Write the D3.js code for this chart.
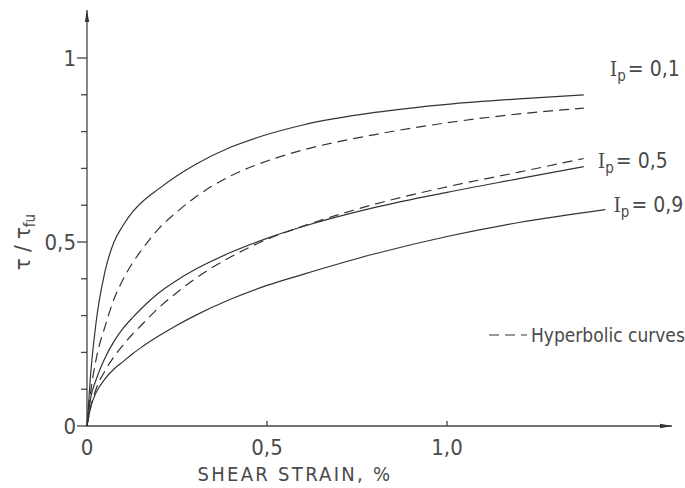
<!DOCTYPE html>
<html>
<head>
<meta charset="utf-8">
<script src="https://cdn.jsdelivr.net/npm/d3@7"></script>
<style>
    body { margin: 0; background: #fff; }
    svg text { font-family: "DejaVu Sans Condensed", "DejaVu Sans", sans-serif; font-stretch: condensed; fill: #4a4a4a; }
    .curve { fill: none; stroke: #333; stroke-width: 1.2; }
    .dashed { stroke-dasharray: 10 6; }
    .axis-line { stroke: #444; stroke-width: 1.3; fill: none; }
</style>
</head>
<body>
<svg class="chart" width="685" height="488"></svg>
<script>
// shear strain (%) sample points
var strain = [0, 0.01, 0.025, 0.05, 0.075, 0.1, 0.125, 0.15, 0.2, 0.25, 0.3, 0.4, 0.5, 0.6, 0.8, 1.0, 1.2, 1.38];
var strainLong = [0, 0.01, 0.025, 0.05, 0.075, 0.1, 0.125, 0.15, 0.2, 0.25, 0.3, 0.4, 0.5, 0.6, 0.8, 1.0, 1.2, 1.44];

// tau / tau_fu
var ip01 = [0, 0.14, 0.28, 0.42, 0.5, 0.545, 0.58, 0.606, 0.645, 0.68, 0.71, 0.758, 0.792, 0.818, 0.852, 0.874, 0.889, 0.90];
var ip01Hyp = [0, 0.09, 0.18, 0.27, 0.345, 0.398, 0.441, 0.476, 0.537, 0.582, 0.621, 0.68, 0.72, 0.75, 0.792, 0.824, 0.848, 0.864];
var ip05 = [0, 0.075, 0.125, 0.185, 0.23, 0.265, 0.293, 0.318, 0.362, 0.396, 0.425, 0.472, 0.51, 0.542, 0.594, 0.635, 0.672, 0.705];
var ip05Hyp = [0, 0.05, 0.1, 0.15, 0.188, 0.22, 0.248, 0.273, 0.322, 0.363, 0.40, 0.46, 0.507, 0.543, 0.603, 0.65, 0.69, 0.727];
var ip09 = [0, 0.05, 0.09, 0.128, 0.155, 0.175, 0.195, 0.213, 0.245, 0.274, 0.30, 0.345, 0.382, 0.412, 0.468, 0.515, 0.553, 0.588];

var xTicks = [0, 0.5, 1.0];
var xTickLabels = ["0", "0,5", "1,0"];
var yTicks = [0, 0.5, 1];
var yTickLabels = ["0", "0,5", "1"];
var yMinorTicks = [0.1, 0.2, 0.3, 0.4, 0.6, 0.7, 0.8, 0.9];

var curves = [
    { x: strain, y: ip01, dashed: false, label: "0,1" },
    { x: strain, y: ip01Hyp, dashed: true },
    { x: strain, y: ip05, dashed: false, label: "0,5" },
    { x: strain, y: ip05Hyp, dashed: true },
    { x: strainLong, y: ip09, dashed: false, label: "0,9" }
];

var svg = d3.select("svg.chart");

var x = d3.scaleLinear().domain([0, 1]).range([87, 447]);
var y = d3.scaleLinear().domain([0, 1]).range([426, 58]);

// axes with arrows
svg.append("defs").append("marker")
    .attr("id", "arrow")
    .attr("viewBox", "0 0 12 6")
    .attr("refX", 12)
    .attr("refY", 3)
    .attr("markerWidth", 14)
    .attr("markerHeight", 6)
    .attr("markerUnits", "userSpaceOnUse")
    .attr("orient", "auto")
    .append("path")
    .attr("d", "M0,0.8 L12,3 L0,5.2 Z")
    .attr("fill", "#333");

svg.append("line")
    .classed("axis-line", true)
    .attr("x1", x(0)).attr("y1", y(0))
    .attr("x2", 672).attr("y2", y(0))
    .attr("marker-end", "url(#arrow)");

svg.append("line")
    .classed("axis-line", true)
    .attr("x1", x(0)).attr("y1", y(0))
    .attr("x2", x(0)).attr("y2", 10)
    .attr("marker-end", "url(#arrow)");

// y ticks (left side)
svg.selectAll("line.ytick")
    .data(yTicks.concat(yMinorTicks))
    .enter()
    .append("line")
    .classed("ytick axis-line", true)
    .attr("x1", function (d) { return x(0) - (yTicks.indexOf(d) >= 0 ? 10 : 6); })
    .attr("x2", x(0))
    .attr("y1", function (d) { return y(d); })
    .attr("y2", function (d) { return y(d); })
    .attr("stroke-width", 1);

svg.selectAll("text.ytick")
    .data(yTicks)
    .enter()
    .append("text")
    .classed("ytick", true)
    .attr("x", x(0) - 11)
    .attr("y", function (d) { return y(d); })
    .attr("dy", 8)
    .attr("text-anchor", "end")
    .attr("font-size", 22)
    .text(function (d, i) { return yTickLabels[i]; });

// x ticks
svg.selectAll("line.xtick")
    .data(xTicks.slice(1))
    .enter()
    .append("line")
    .classed("xtick axis-line", true)
    .attr("x1", function (d) { return x(d); })
    .attr("x2", function (d) { return x(d); })
    .attr("y1", y(0) - 5).attr("y2", y(0))
    .attr("stroke-width", 1);

svg.selectAll("text.xtick")
    .data(xTicks)
    .enter()
    .append("text")
    .classed("xtick", true)
    .attr("x", function (d) { return x(d); })
    .attr("y", y(0) + 29)
    .attr("text-anchor", "middle")
    .attr("font-size", 22)
    .text(function (d, i) { return xTickLabels[i]; });

// axis titles
svg.append("text")
    .attr("x", 295)
    .attr("y", 481)
    .attr("text-anchor", "middle")
    .attr("font-size", 20)
    .attr("letter-spacing", 2.3)
    .text("SHEAR STRAIN, %");

var yTitle = svg.append("text")
    .attr("transform", "translate(30,242) rotate(-90)")
    .attr("text-anchor", "middle")
    .attr("font-size", 22);
yTitle.append("tspan").text("τ / τ");
yTitle.append("tspan").attr("font-size", 15).attr("dy", 5).text("fu");

// curves
var line = d3.line()
    .x(function (d) { return x(d[0]); })
    .y(function (d) { return y(d[1]); })
    .curve(d3.curveMonotoneX);

svg.selectAll("path.curve")
    .data(curves)
    .enter()
    .append("path")
    .attr("class", function (c) { return c.dashed ? "curve dashed" : "curve"; })
    .attr("d", function (c) { return line(d3.zip(c.x, c.y)); });

// curve labels
var labelled = curves.filter(function (c) { return c.label; });
var labelOffsets = [[26, -19], [14, 1], [8, 2]];
labelled.forEach(function (c, i) {
    var n = c.x.length - 1;
    var t = svg.append("text")
        .attr("x", x(c.x[n]) + labelOffsets[i][0])
        .attr("y", y(c.y[n]) + labelOffsets[i][1])
        .attr("font-size", 21);
    t.append("tspan").attr("font-family", "DejaVu Serif").text("I");
    t.append("tspan").attr("font-size", 15).attr("dy", 5).text("p");
    t.append("tspan").attr("dy", -5).attr("dx", 2).text("= " + c.label);
});

// legend
svg.append("line")
    .classed("curve dashed", true)
    .attr("x1", 489).attr("x2", 527)
    .attr("y1", 335).attr("y2", 335)
    .attr("stroke-dasharray", "10 4");

svg.append("text")
    .attr("x", 531)
    .attr("y", 342)
    .attr("font-size", 19)
    .text("Hyperbolic curves");
</script>
</body>
</html>
